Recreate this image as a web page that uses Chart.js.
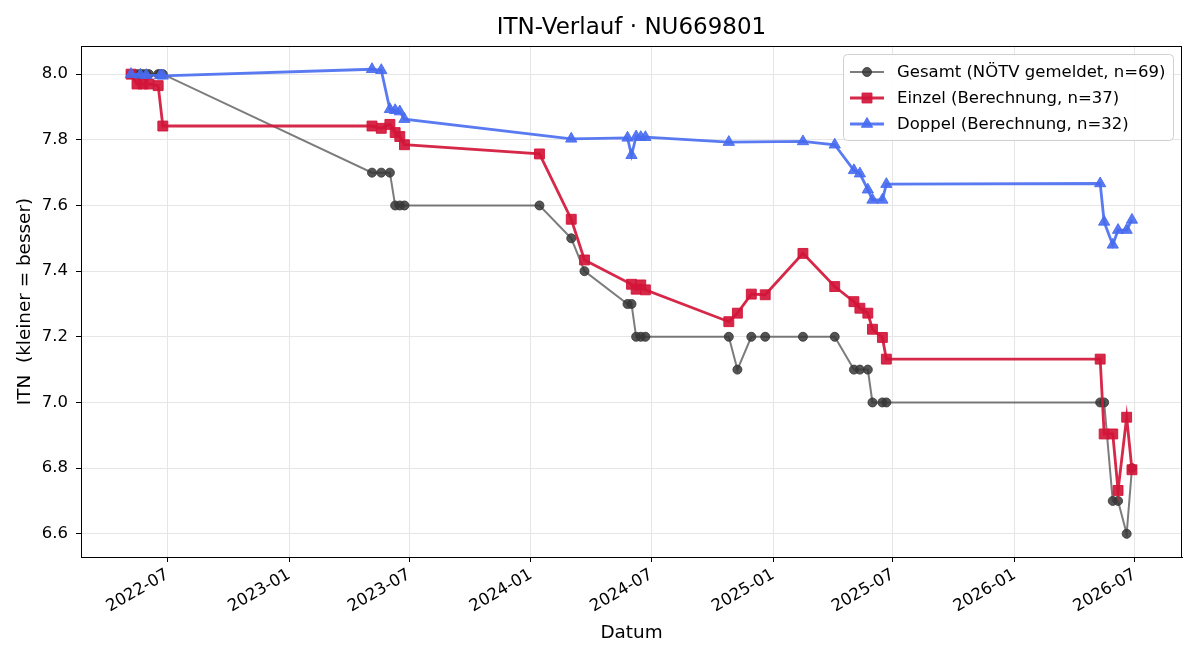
<!DOCTYPE html>
<html><head><meta charset="utf-8">
<script src="https://cdn.jsdelivr.net/npm/chart.js@4/dist/chart.umd.min.js"></script>
<style>html,body{margin:0;padding:0;background:#fff}#wrap{width:1200px;height:660px}</style>
</head><body><div id="wrap"><canvas id="c" width="1200" height="660"></canvas></div>
<script>
const chartTitle = 'ITN-Verlauf · NU669801';
const xAxisTitle = 'Datum';
const yAxisTitle = 'ITN  (kleiner = besser)';

const gesamtLabel = 'Gesamt (NÖTV gemeldet, n=69)';
const gesamtDates = ['2022-05-07','2022-05-16','2022-05-21','2022-05-25','2022-05-30','2022-06-03','2022-06-17','2022-06-20','2022-06-24',
 '2023-05-06','2023-05-20','2023-06-02','2023-06-10','2023-06-17','2023-06-24',
 '2024-01-14','2024-03-02','2024-03-22','2024-05-26','2024-06-01','2024-06-08','2024-06-15','2024-06-22',
 '2024-10-26','2024-11-08','2024-11-29','2024-12-20','2025-02-15','2025-04-04','2025-05-03','2025-05-12','2025-05-24','2025-05-31','2025-06-15','2025-06-21',
 '2026-05-10','2026-05-16','2026-05-29','2026-06-06','2026-06-19','2026-06-27'];
const gesamtValues = [8.0,8.0,8.0,8.0,8.0,8.0,8.0,8.0,8.0,
 7.7,7.7,7.7,7.6,7.6,7.6,
 7.6,7.5,7.4,7.3,7.3,7.2,7.2,7.2,
 7.2,7.1,7.2,7.2,7.2,7.2,7.1,7.1,7.1,7.0,7.0,7.0,
 7.0,7.0,6.7,6.7,6.6,6.8];

const einzelLabel = 'Einzel (Berechnung, n=37)';
const einzelDates = ['2022-05-07','2022-05-16','2022-05-25','2022-06-03','2022-06-17','2022-06-24',
 '2023-05-06','2023-05-20','2023-06-02','2023-06-10','2023-06-17','2023-06-24',
 '2024-01-14','2024-03-02','2024-03-22','2024-06-01','2024-06-08','2024-06-15','2024-06-22',
 '2024-10-26','2024-11-08','2024-11-29','2024-12-20','2025-02-15','2025-04-04','2025-05-03','2025-05-12','2025-05-24','2025-05-31','2025-06-15','2025-06-21',
 '2026-05-10','2026-05-16','2026-05-29','2026-06-06','2026-06-19','2026-06-27'];
const einzelValues = [8.0,7.97,7.97,7.97,7.965,7.842,
 7.842,7.835,7.847,7.822,7.81,7.785,
 7.757,7.558,7.434,7.36,7.345,7.358,7.343,
 7.246,7.272,7.33,7.328,7.454,7.353,7.307,7.287,7.272,7.223,7.198,7.132,
 7.132,6.904,6.904,6.732,6.955,6.795];

const doppelLabel = 'Doppel (Berechnung, n=32)';
const doppelDates = ['2022-05-07','2022-05-21','2022-05-30','2022-06-20','2022-06-24',
 '2023-05-06','2023-05-20','2023-06-02','2023-06-10','2023-06-17','2023-06-24',
 '2024-03-02','2024-05-26','2024-06-01','2024-06-08','2024-06-15','2024-06-22',
 '2024-10-26','2025-02-15','2025-04-04','2025-05-03','2025-05-12','2025-05-24','2025-05-31','2025-06-15','2025-06-21',
 '2026-05-10','2026-05-16','2026-05-29','2026-06-06','2026-06-19','2026-06-27'];
const doppelValues = [8.0,7.998,7.997,7.996,7.995,
 8.015,8.012,7.893,7.89,7.886,7.863,
 7.803,7.806,7.753,7.81,7.808,7.808,
 7.793,7.795,7.785,7.707,7.697,7.648,7.617,7.617,7.665,
 7.667,7.55,7.48,7.525,7.525,7.556];

const xTickLabels = ['2022-07','2023-01','2023-07','2024-01','2024-07','2025-01','2025-07','2026-01','2026-07'];
const yTickValues = [6.6,6.8,7.0,7.2,7.4,7.6,7.8,8.0];

const toMs = s => { const p = s.split('-').map(Number); return Date.UTC(p[0], p[1]-1, p[2] || 1); };
const pts = (d, v) => d.map((s, i) => ({x: toMs(s), y: v[i]}));

const allX = [...gesamtDates, ...einzelDates, ...doppelDates].map(toMs);
const allY = [...gesamtValues, ...einzelValues, ...doppelValues];
const xMinD = Math.min(...allX), xMaxD = Math.max(...allX);
const yMinD = Math.min(...allY), yMaxD = Math.max(...allY);
const xPad = (xMaxD - xMinD) * 0.05, yPad = (yMaxD - yMinD) * 0.05;

const FONT = "'DejaVu Sans', sans-serif";
const C_G = 'rgba(68,68,68,0.7)', C_GP = 'rgba(55,55,55,0.85)';
const C_E = 'rgba(210,22,58,0.92)';
const C_D = 'rgba(72,108,240,0.9)';

const legendItems = [
  {label: gesamtLabel, color: C_G, pcolor: C_GP, style: 'circle', r: 4.5, lw: 2},
  {label: einzelLabel, color: C_E, pcolor: C_E, style: 'rect', r: 7, lw: 2.8},
  {label: doppelLabel, color: C_D, pcolor: C_D, style: 'triangle', r: 6.5, lw: 2.8},
];

const deco = {
  id: 'deco',
  afterDraw(chart) {
    const ctx = chart.ctx, a = chart.chartArea;
    ctx.save();
    ctx.strokeStyle = '#000'; ctx.lineWidth = 1;
    ctx.strokeRect(Math.round(a.left)+0.5, Math.round(a.top)+0.5, Math.round(a.right-a.left)-1, Math.round(a.bottom-a.top));
    ctx.fillStyle = '#000';
    ctx.textAlign = 'center'; ctx.textBaseline = 'middle';
    ctx.font = "23px " + FONT;
    ctx.fillText(chartTitle, (a.left+a.right)/2, 28);
    ctx.font = "18.4px " + FONT;
    ctx.fillText(xAxisTitle, (a.left+a.right)/2, 633);
    ctx.save();
    ctx.translate(25, (a.top+a.bottom)/2);
    ctx.rotate(-Math.PI/2);
    ctx.fillText(yAxisTitle, 0, 0);
    ctx.restore();
    const bx = 843.5, by = 54.5, bw = 330, bh = 86, rr = 4;
    ctx.beginPath();
    ctx.moveTo(bx+rr, by); ctx.lineTo(bx+bw-rr, by); ctx.quadraticCurveTo(bx+bw, by, bx+bw, by+rr);
    ctx.lineTo(bx+bw, by+bh-rr); ctx.quadraticCurveTo(bx+bw, by+bh, bx+bw-rr, by+bh);
    ctx.lineTo(bx+rr, by+bh); ctx.quadraticCurveTo(bx, by+bh, bx, by+bh-rr);
    ctx.lineTo(bx, by+rr); ctx.quadraticCurveTo(bx, by, bx+rr, by);
    ctx.closePath();
    ctx.fillStyle = 'rgba(255,255,255,0.85)'; ctx.fill();
    ctx.strokeStyle = '#d0d0d0'; ctx.lineWidth = 1; ctx.stroke();
    ctx.font = "16.5px " + FONT; ctx.textAlign = 'left'; ctx.textBaseline = 'middle';
    legendItems.forEach((it, i) => {
      const y = 72 + i*26;
      ctx.strokeStyle = it.color; ctx.lineWidth = it.lw;
      ctx.beginPath(); ctx.moveTo(850, y); ctx.lineTo(884, y); ctx.stroke();
      ctx.fillStyle = it.pcolor; ctx.strokeStyle = it.pcolor; ctx.lineWidth = 1;
      Chart.helpers.drawPoint(ctx, {pointStyle: it.style, radius: it.r, rotation: 0, borderWidth: 1}, 867, y);
      ctx.fillStyle = '#000';
      ctx.fillText(it.label, 897, y + 1);
    });
    ctx.restore();
  }
};

const chart = new Chart(document.getElementById('c'), {
  type: 'line',
  data: {
    datasets: [
      {label: gesamtLabel, data: pts(gesamtDates, gesamtValues), borderColor: C_G, borderWidth: 2,
       pointStyle: 'circle', pointRadius: 4.5, pointBackgroundColor: C_GP, pointBorderColor: C_GP, pointBorderWidth: 1, order: 3},
      {label: einzelLabel, data: pts(einzelDates, einzelValues), borderColor: C_E, borderWidth: 2.8,
       pointStyle: 'rect', pointRadius: 7, pointBackgroundColor: C_E, pointBorderColor: C_E, pointBorderWidth: 1, order: 2},
      {label: doppelLabel, data: pts(doppelDates, doppelValues), borderColor: C_D, borderWidth: 2.8,
       pointStyle: 'triangle', pointRadius: 6.5, pointBackgroundColor: C_D, pointBorderColor: C_D, pointBorderWidth: 1, order: 1},
    ]
  },
  options: {
    responsive: false, animation: false, devicePixelRatio: 1,
    layout: {padding: {top: 46, right: 18, left: 0, bottom: 0}},
    elements: {line: {tension: 0, fill: false}},
    plugins: {legend: {display: false}, title: {display: false}, tooltip: {enabled: false}},
    scales: {
      x: {
        type: 'linear', min: xMinD - xPad, max: xMaxD + xPad,
        afterBuildTicks: s => { s.ticks = xTickLabels.map(l => ({value: toMs(l + '-01')})); },
        afterFit: s => { s.height = 103; },
        ticks: {autoSkip: false, maxRotation: 30, minRotation: 30, padding: 3, color: '#000',
          font: {family: FONT, size: 16.5},
          callback: v => { const d = new Date(v); return d.getUTCFullYear() + '-' + String(d.getUTCMonth()+1).padStart(2,'0'); }},
        grid: {color: '#e6e6e6', lineWidth: 1, tickColor: '#000', tickLength: 5, tickWidth: 1},
        border: {display: true, color: '#000', width: 1}
      },
      y: {
        type: 'linear', min: yMinD - yPad, max: yMaxD + yPad,
        afterBuildTicks: s => { s.ticks = yTickValues.map(v => ({value: v})); },
        afterFit: s => { s.width = 81; },
        ticks: {padding: 8, color: '#000', font: {family: FONT, size: 16.5}, callback: v => Number(v).toFixed(1)},
        grid: {color: '#e6e6e6', lineWidth: 1, tickColor: '#000', tickLength: 5, tickWidth: 1},
        border: {display: true, color: '#000', width: 1}
      }
    }
  },
  plugins: [deco]
});
</script></body></html>
